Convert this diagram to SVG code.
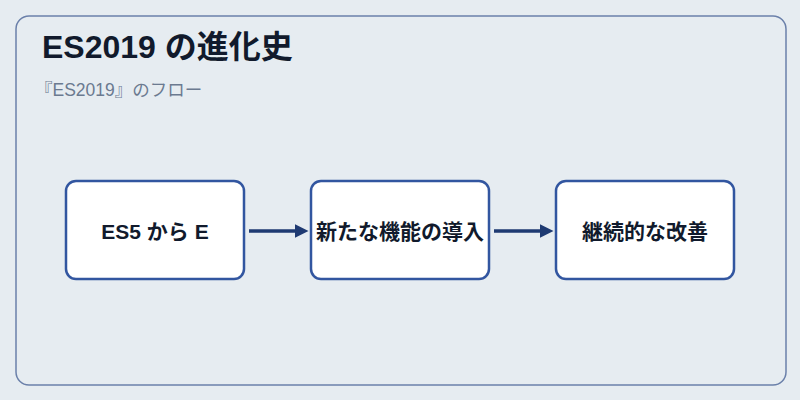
<svg xmlns="http://www.w3.org/2000/svg" width="800" height="400" viewBox="0 0 800 400">
<style>
.node{fill:#fff;stroke:#3256a0;stroke-width:2.5}
.lbl{font-family:"Liberation Sans","Noto Sans CJK JP",sans-serif;font-size:21px;font-weight:bold;fill:#111a2c;text-anchor:middle;dominant-baseline:central}
.conn{stroke:#1e3a72;stroke-width:3.5;fill:none}
</style>
<defs><marker id="ah" markerWidth="4" markerHeight="4" refX="1" refY="2" orient="auto" markerUnits="strokeWidth"><path d="M0,0 L4,2 L0,4 Z" fill="#1e3a72"/></marker></defs>
<rect width="800" height="400" fill="#e6ecf1"/>
<rect x="16" y="16" width="770" height="369" rx="13" fill="#e6ecf1" stroke="#6b80aa" stroke-width="1.5"/>
<text x="42" y="58" font-family="Liberation Sans,Noto Sans CJK JP,sans-serif" font-size="32" font-weight="bold" fill="#111a2c">ES2019 の進化史</text>
<text x="35" y="96" font-family="Liberation Sans,Noto Sans CJK JP,sans-serif" font-size="17.5" fill="#6b7a90">『ES2019』のフロー</text>
<g id="connectors">
<line class="conn" x1="249" y1="231" x2="298" y2="231" marker-end="url(#ah)"/>
<line class="conn" x1="494" y1="231" x2="543" y2="231" marker-end="url(#ah)"/>
</g>
<g id="n1"><rect class="node" x="66" y="181" width="178" height="98" rx="10"/><text class="lbl" x="155" y="231">ES5 から E</text></g>
<g id="n2"><rect class="node" x="311" y="181" width="178" height="98" rx="10"/><text class="lbl" x="400" y="231">新たな機能の導入</text></g>
<g id="n3"><rect class="node" x="556" y="181" width="178" height="98" rx="10"/><text class="lbl" x="645" y="231">継続的な改善</text></g>
</svg>
